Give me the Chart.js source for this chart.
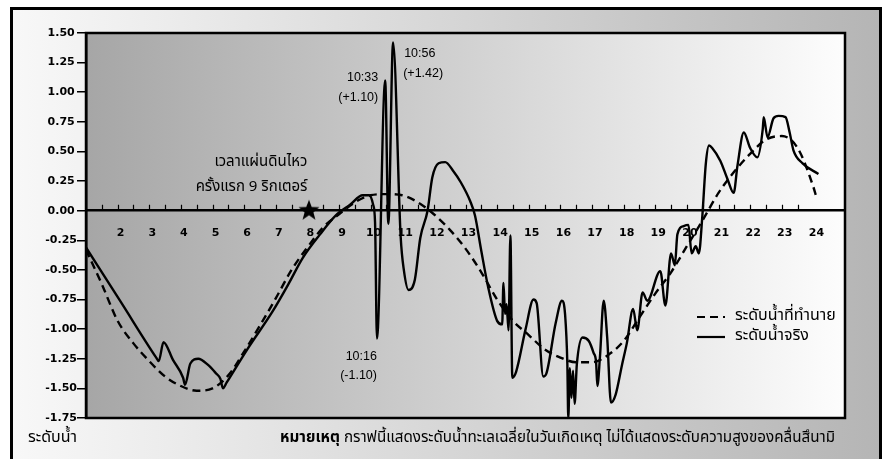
<!DOCTYPE html>
<html>
<head>
<meta charset="utf-8">
<script src="https://cdn.jsdelivr.net/npm/chart.js@4.4.1/dist/chart.umd.min.js"></script>
<style>
html, body { margin: 0; padding: 0; background: #fff; }
#wrap { position: relative; width: 888px; height: 459px; overflow: hidden; }
#frame { position: absolute; left: 10px; top: 7px; width: 866px; height: 480px;
         border: 3px solid #000; background: linear-gradient(to right, #f8f8f8, #b5b5b5); }
#c { position: absolute; left: 0; top: 0; }
</style>
</head>
<body>
<div id="wrap"><div id="frame"></div><canvas id="c" width="888" height="459"></canvas></div>
<script>
// ข้อมูลระดับน้ำ (ชั่วโมง / เมตร)
const hourLabels = [2, 3, 4, 5, 6, 7, 8, 9, 10, 11, 12, 13, 14, 15, 16, 17, 18, 19, 20, 21, 22, 23, 24];
const levelTicks = [-1.75, -1.5, -1.25, -1, -0.75, -0.5, -0.25, 0, 0.25, 0.5, 0.75, 1, 1.25, 1.5];

// ระดับน้ำที่ทำนาย (เส้นประ)
const predHours  = [1.0, 1.5, 2.0, 2.5, 3.0, 3.5, 4.0, 4.5, 5.0, 5.5, 6.0, 6.5, 7.0, 7.5, 8.0, 8.5, 9.0, 9.5,
                    10.0, 10.5, 11.0, 11.5, 12.0, 12.5, 13.0, 13.5, 14.0, 14.5, 15.0, 15.5, 16.0, 16.5, 17.0,
                    17.5, 18.0, 18.5, 19.0, 19.5, 20.0, 20.5, 21.0, 21.5, 22.0, 22.5, 23.0, 23.5, 24.0, 24.1];
const predLevels = [-0.33, -0.62, -0.93, -1.12, -1.27, -1.40, -1.48, -1.52, -1.50, -1.39, -1.19, -0.97, -0.74, -0.50, -0.31, -0.14, -0.03, 0.07,
                    0.13, 0.14, 0.13, 0.07, -0.03, -0.16, -0.32, -0.52, -0.75, -0.93, -1.05, -1.17, -1.24, -1.28, -1.28,
                    -1.22, -1.10, -0.90, -0.70, -0.52, -0.30, -0.08, 0.15, 0.33, 0.48, 0.60, 0.63, 0.53, 0.20, 0.11];

// ระดับน้ำจริง (เส้นทึบ)
const actualHours  = [1.00, 2.10, 3.22, 3.30, 3.45, 3.75, 4.07, 4.13, 4.30, 4.55, 4.85, 5.10, 5.25, 5.33, 5.45,
                      6.10, 6.90, 7.40, 7.85, 8.40, 8.90, 9.35, 9.75, 9.95, 10.08, 10.14, 10.20, 10.46, 10.56, 10.71,
                      10.95, 11.05, 11.20, 11.40, 11.57, 11.80, 11.95, 12.15, 12.36, 12.60, 12.85, 13.15, 13.30, 13.50, 13.72,
                      14.00, 14.16, 14.20, 14.25, 14.30, 14.36, 14.42, 14.48, 14.60, 14.90, 15.15, 15.25, 15.46, 15.55, 15.85,
                      16.05, 16.15, 16.22, 16.25, 16.30, 16.35, 16.40, 16.45, 16.52, 16.70, 16.90, 17.05, 17.13, 17.17, 17.25,
                      17.37, 17.48, 17.60, 17.75, 17.95, 18.10, 18.30, 18.43, 18.60, 18.75, 19.16, 19.32, 19.50, 19.62, 19.70,
                      19.90, 20.05, 20.15, 20.28, 20.38, 20.48, 20.60, 20.70, 20.80, 21.06, 21.28, 21.48, 21.60, 21.80, 22.00,
                      22.23, 22.40, 22.43, 22.55, 22.74, 22.90, 23.12, 23.25, 23.37, 23.66, 24.16];
const actualLevels = [-0.31, -0.77, -1.24, -1.27, -1.11, -1.26, -1.41, -1.47, -1.29, -1.25, -1.30, -1.37, -1.42, -1.50, -1.45,
                      -1.17, -0.85, -0.62, -0.40, -0.20, -0.04, 0.05, 0.13, 0.13, 0.05, -0.10, -1.08, 1.10, -0.11, 1.42,
                      -0.22, -0.50, -0.67, -0.58, -0.23, 0.00, 0.28, 0.40, 0.41, 0.34, 0.24, 0.08, -0.04, -0.34, -0.65,
                      -0.93, -0.96, -0.61, -0.87, -0.79, -1.01, -0.21, -1.41, -1.36, -1.00, -0.75, -0.78, -1.40, -1.38, -0.95,
                      -0.76, -0.88, -1.29, -1.75, -1.33, -1.58, -1.35, -1.63, -1.30, -1.07, -1.10, -1.20, -1.28, -1.48, -1.24,
                      -0.76, -1.07, -1.62, -1.55, -1.30, -1.12, -0.83, -1.01, -0.69, -0.76, -0.51, -0.80, -0.36, -0.46, -0.20,
                      -0.13, -0.12, -0.36, -0.30, -0.36, -0.08, 0.40, 0.55, 0.53, 0.42, 0.27, 0.15, 0.38, 0.66, 0.53,
                      0.45, 0.69, 0.79, 0.62, 0.78, 0.80, 0.79, 0.66, 0.51, 0.40, 0.31];

// เวลาแผ่นดินไหว
const quakeHour = 8.05;
const quakeLevel = 0;

const THAI = "'Noto Sans Thai', 'Noto Sans', 'DejaVu Sans', sans-serif";
const NUM = "'DejaVu Sans', sans-serif";

// ข้อความกำกับบนกราฟ
const notes = [
    { text: 'เวลาแผ่นดินไหว', hour: 8.0, level: 0.40, align: 'right', font: '15px ' + THAI },
    { text: 'ครั้งแรก 9 ริกเตอร์', hour: 8.0, level: 0.19, align: 'right', font: '15px ' + THAI },
    { text: '10:33', hour: 10.24, level: 1.12, align: 'right', font: '12.5px "Liberation Sans"' },
    { text: '(+1.10)', hour: 10.24, level: 0.955, align: 'right', font: '12.5px "Liberation Sans"' },
    { text: '10:56', hour: 11.06, level: 1.33, align: 'left', font: '12.5px "Liberation Sans"' },
    { text: '(+1.42)', hour: 11.03, level: 1.16, align: 'left', font: '12.5px "Liberation Sans"' },
    { text: '10:16', hour: 10.2, level: -1.23, align: 'right', font: '12.5px "Liberation Sans"' },
    { text: '(-1.10)', hour: 10.2, level: -1.39, align: 'right', font: '12.5px "Liberation Sans"' }
];

// ดาวแสดงจุดแผ่นดินไหว
function makeStar(r) {
    const c = document.createElement('canvas');
    c.width = c.height = r * 2 + 2;
    const g = c.getContext('2d');
    g.translate(r + 1, r + 1);
    g.beginPath();
    for (let i = 0; i < 10; i++) {
        const rad = i % 2 === 0 ? r : r * 0.42;
        const a = -Math.PI / 2 + i * Math.PI / 5;
        g.lineTo(rad * Math.cos(a), rad * Math.sin(a));
    }
    g.closePath();
    g.fillStyle = '#000';
    g.fill();
    return c;
}

const decor = {
    id: 'decor',
    beforeDraw(chart) {
        const { ctx, chartArea: a } = chart;
        const g = ctx.createLinearGradient(a.left, 0, a.right, 0);
        g.addColorStop(0, '#a6a6a6');
        g.addColorStop(1, '#fdfdfd');
        ctx.save();
        ctx.fillStyle = g;
        ctx.fillRect(a.left, a.top, a.right - a.left, a.bottom - a.top);
        ctx.restore();
    },
    afterDraw(chart) {
        const { ctx, chartArea: a, scales: { x, y } } = chart;
        ctx.save();
        // ขีดครึ่งชั่วโมงบนเส้นศูนย์
        const y0 = y.getPixelForValue(0);
        ctx.strokeStyle = '#000';
        ctx.lineWidth = 1.2;
        ctx.beginPath();
        for (let h = 1.5; h <= 23.5; h += 0.5) {
            const px = Math.round(x.getPixelForValue(h)) + 0.5;
            ctx.moveTo(px, y0);
            ctx.lineTo(px, y0 - 6);
        }
        ctx.stroke();
        // กรอบพื้นที่กราฟ
        ctx.lineWidth = 2.5;
        ctx.strokeRect(a.left, a.top, a.right - a.left, a.bottom - a.top);

        // ข้อความกำกับ
        ctx.fillStyle = '#000';
        ctx.textBaseline = 'middle';
        notes.forEach(n => {
            ctx.font = n.font;
            ctx.textAlign = n.align;
            ctx.fillText(n.text, x.getPixelForValue(n.hour), y.getPixelForValue(n.level));
        });

        // คำอธิบายเส้น
        const ds = chart.data.datasets;
        const lx = a.right - 148, tx = a.right - 110;
        [0, 1].forEach((i, row) => {
            const ly = a.top + 284 + row * 20;
            ctx.lineWidth = 2.2;
            ctx.setLineDash(ds[i].borderDash || []);
            ctx.beginPath();
            ctx.moveTo(lx, ly);
            ctx.lineTo(lx + 28, ly);
            ctx.stroke();
            ctx.setLineDash([]);
            ctx.font = '16px ' + THAI;
            ctx.textAlign = 'left';
            ctx.fillText(ds[i].label, tx, ly);
        });

        // ข้อความด้านล่าง
        const by = a.bottom + 21;
        ctx.font = '16px ' + THAI;
        ctx.textAlign = 'left';
        ctx.fillText('ระดับน้ำ', 28, by);
        const rest = ' กราฟนี้แสดงระดับน้ำทะเลเฉลี่ยในวันเกิดเหตุ ไม่ได้แสดงระดับความสูงของคลื่นสึนามิ';
        ctx.font = '15.2px ' + THAI;
        ctx.textAlign = 'right';
        ctx.fillText(rest, a.right - 10, by);
        const rw = ctx.measureText(rest).width;
        ctx.font = 'bold 15.2px ' + THAI;
        ctx.fillText('หมายเหตุ', a.right - 10 - rw, by);
        ctx.restore();
    }
};

const toPts = (xs, ys) => xs.map((h, i) => ({ x: h, y: ys[i] }));

new Chart(document.getElementById('c'), {
    type: 'line',
    data: {
        datasets: [
            {
                label: 'ระดับน้ำที่ทำนาย',
                data: toPts(predHours, predLevels),
                borderColor: '#000',
                borderWidth: 2.4,
                borderDash: [8, 5],
                pointRadius: 0,
                cubicInterpolationMode: 'monotone'
            },
            {
                label: 'ระดับน้ำจริง',
                data: toPts(actualHours, actualLevels),
                borderColor: '#000',
                borderWidth: 2.4,
                pointRadius: 0,
                cubicInterpolationMode: 'monotone'
            },
            {
                label: 'แผ่นดินไหว',
                data: [{ x: quakeHour, y: quakeLevel }],
                showLine: false,
                pointStyle: makeStar(11),
                pointRadius: 11
            }
        ]
    },
    options: {
        responsive: false,
        animation: false,
        devicePixelRatio: 1,
        layout: { padding: { left: 0, top: 33, right: 43, bottom: 41 } },
        plugins: { legend: { display: false }, tooltip: { enabled: false } },
        scales: {
            x: {
                type: 'linear',
                min: 1,
                max: 25,
                position: { y: 0 },
                afterBuildTicks: s => { s.ticks = hourLabels.map(v => ({ value: v })); },
                grid: { display: false, drawTicks: false },
                border: { display: true, color: '#000', width: 2.5 },
                ticks: {
                    color: '#000',
                    padding: 16,
                    labelOffset: 3,
                    maxRotation: 0,
                    autoSkip: false,
                    font: { family: NUM, size: 11, weight: 'bold' }
                }
            },
            y: {
                min: -1.75,
                max: 1.5,
                afterFit: s => { s.width = 86; },
                afterBuildTicks: s => { s.ticks = levelTicks.map(v => ({ value: v })); },
                grid: { drawOnChartArea: false, drawTicks: true, tickLength: 9, color: '#000', lineWidth: 1.5 },
                border: { display: true, color: '#000', width: 2.5 },
                ticks: {
                    color: '#000',
                    padding: 0,
                    crossAlign: 'center',
                    callback: v => v.toFixed(2),
                    font: { family: NUM, size: 11, weight: 'bold' }
                }
            }
        }
    },
    plugins: [decor]
});
</script>
</body>
</html>
